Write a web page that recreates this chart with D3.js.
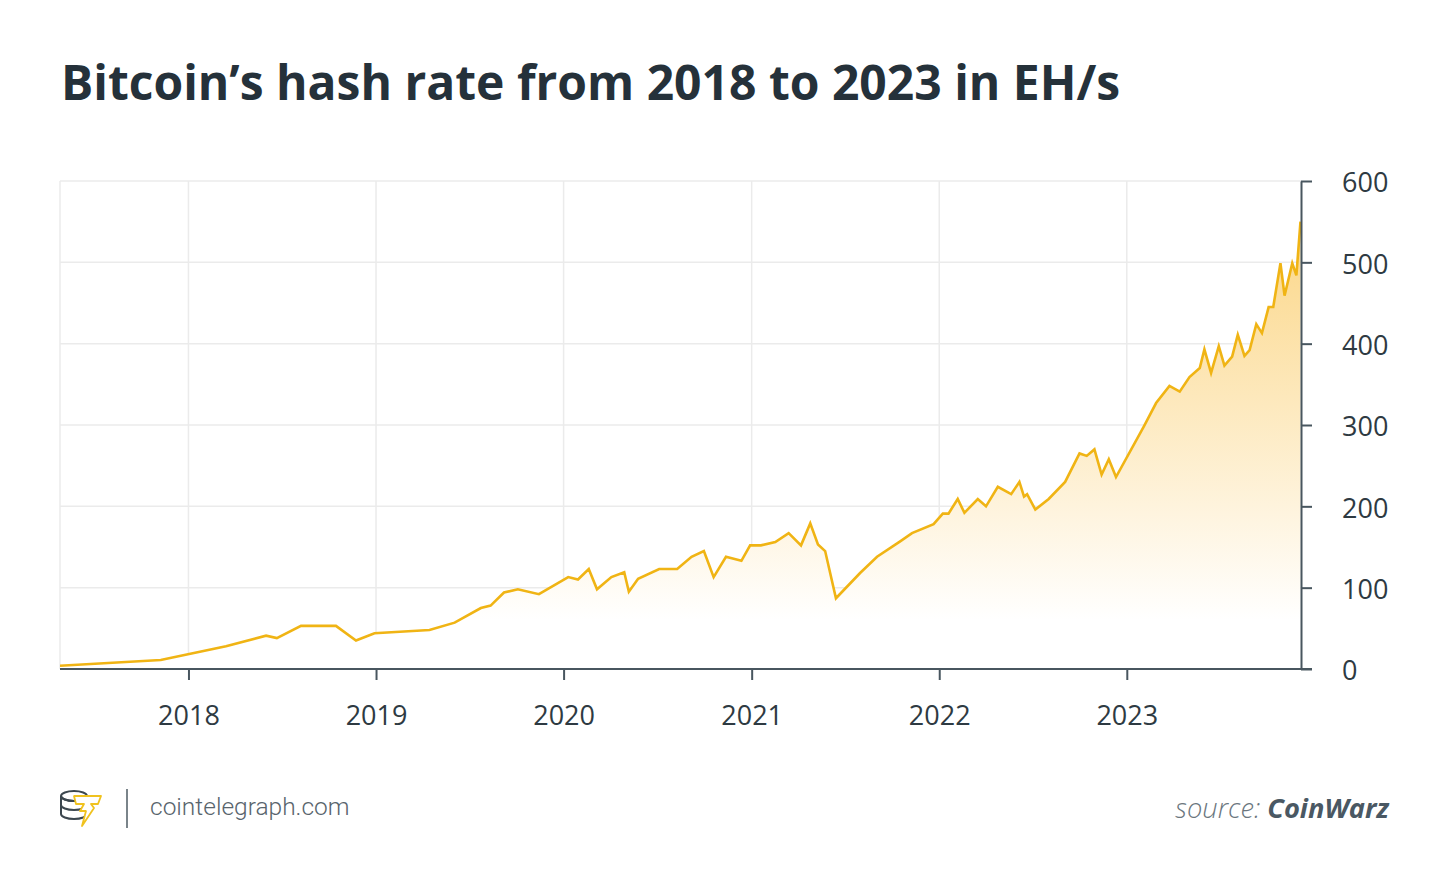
<!DOCTYPE html>
<html>
<head>
<meta charset="utf-8">
<script src="https://cdn.jsdelivr.net/npm/d3@7"></script>
<style>
  html, body { margin: 0; padding: 0; background: #ffffff; }
  svg { display: block; }
</style>
</head>
<body>
<svg id="chart" width="1450" height="889"></svg>
<script>
// ---- data ----
const dates = [
  "2017-04-26","2017-11-08","2018-03-15","2018-06-01","2018-06-22","2018-08-08","2018-10-15","2018-11-23","2018-12-29",
  "2019-04-15","2019-06-03","2019-07-24","2019-08-12","2019-09-07","2019-10-04","2019-11-14",
  "2020-01-10","2020-01-29","2020-02-19","2020-03-06","2020-04-03","2020-04-28","2020-05-07","2020-05-25","2020-07-05",
  "2020-08-09","2020-09-06","2020-09-30","2020-10-19","2020-11-12","2020-12-12","2020-12-29",
  "2021-01-19","2021-02-16","2021-03-14","2021-04-07","2021-04-25","2021-05-10","2021-05-24","2021-06-14","2021-07-31",
  "2021-09-02","2021-10-17","2021-11-09","2021-12-21",
  "2022-01-08","2022-01-19","2022-02-06","2022-02-19","2022-03-17","2022-04-02","2022-04-25","2022-05-21","2022-06-06",
  "2022-06-15","2022-06-21","2022-07-07","2022-08-02","2022-09-03","2022-10-01","2022-10-15","2022-10-30","2022-11-13",
  "2022-11-27","2022-12-11",
  "2023-02-03","2023-02-27","2023-03-25","2023-04-14","2023-05-03","2023-05-23","2023-06-01","2023-06-14","2023-06-29",
  "2023-07-10","2023-07-25","2023-08-05","2023-08-18","2023-08-28","2023-09-10","2023-09-21","2023-10-04","2023-10-13",
  "2023-10-27","2023-11-04","2023-11-19","2023-11-27","2023-12-05"
];
const hashRate = [
  4,11,28,41,38,53,53,35,44,
  48,57,75,78,94,98,92,
  113,110,123,98,113,119,95,111,123,
  123,138,145,113,138,133,152,
  152,156,167,152,179,153,145,87,118,
  138,157,167,178,
  191,191,209,192,209,200,224,215,230,
  212,215,196,209,230,265,262,270,239,
  258,236,
  298,327,348,341,359,370,393,364,397,
  373,384,411,385,392,424,413,445,445,
  499,459,499,484,550
];
const yTicks = [0, 100, 200, 300, 400, 500, 600];
const xTickYears = [2018, 2019, 2020, 2021, 2022, 2023];
const domainStart = "2017-04-26";
const domainEnd = "2023-12-06";

const titleText = "Bitcoin\u2019s hash rate from 2018 to 2023 in EH/s";

// ---- layout ----
const svg = d3.select("#chart");
const plotL = 60, plotR = 1301, plotT = 181, plotB = 669;
const parse = d3.utcParse("%Y-%m-%d");
const data = dates.map((d, i) => ({ date: parse(d), value: hashRate[i] }));

const x = d3.scaleUtc().domain([parse(domainStart), parse(domainEnd)]).range([plotL, plotR]);
const y = d3.scaleLinear().domain([0, 600]).range([plotB, plotT]);
const xTicks = xTickYears.map(yr => new Date(Date.UTC(yr, 0, 1)));

const axisColor = "#48565f";
const textColor = "#2e3a42";
const gridColor = "#ebebeb";

// title
svg.append("text")
  .attr("x", 61).attr("y", 100)
  .attr("font-family", "'Open Sans', sans-serif")
  .attr("font-weight", 700)
  .attr("font-size", 48)
  .attr("fill", "#25313a")
  .text(titleText);

// gradient
const defs = svg.append("defs");
const grad = defs.append("linearGradient")
  .attr("id", "areaGrad")
  .attr("gradientUnits", "userSpaceOnUse")
  .attr("x1", 0).attr("x2", 0)
  .attr("y1", y(600)).attr("y2", y(60));
grad.append("stop").attr("offset", "0%").attr("stop-color", "#fbd27a");
grad.append("stop").attr("offset", "100%").attr("stop-color", "#ffffff");

// grid
const grid = svg.append("g");
grid.selectAll("line.h").data(yTicks).join("line")
  .attr("x1", plotL).attr("x2", plotR)
  .attr("y1", d => y(d)).attr("y2", d => y(d))
  .attr("stroke", gridColor).attr("stroke-width", 1.5);
grid.selectAll("line.v").data(xTicks).join("line")
  .attr("x1", d => x(d)).attr("x2", d => x(d))
  .attr("y1", plotT).attr("y2", plotB)
  .attr("stroke", gridColor).attr("stroke-width", 1.5);
grid.append("line")
  .attr("x1", plotL).attr("x2", plotL).attr("y1", plotT).attr("y2", plotB)
  .attr("stroke", gridColor).attr("stroke-width", 1.5);

// area + line
svg.append("path")
  .datum(data)
  .attr("fill", "url(#areaGrad)")
  .attr("d", d3.area().x(d => x(d.date)).y0(y(0)).y1(d => y(d.value)));
svg.append("path")
  .datum(data)
  .attr("fill", "none")
  .attr("stroke", "#f0b414")
  .attr("stroke-width", 2.6)
  .attr("stroke-linejoin", "miter")
  .attr("d", d3.line().x(d => x(d.date)).y(d => y(d.value)));

// bottom axis
const xAxis = svg.append("g")
  .attr("transform", `translate(0,${plotB})`)
  .call(d3.axisBottom(x).tickValues(xTicks).tickFormat(d3.utcFormat("%Y")).tickSize(11).tickPadding(26).tickSizeOuter(0));
xAxis.select(".domain").remove();
xAxis.append("line").attr("x1", plotL).attr("x2", plotR + 11).attr("y1", 0).attr("y2", 0)
  .attr("stroke", axisColor).attr("stroke-width", 2);
xAxis.selectAll(".tick line").attr("stroke", axisColor).attr("stroke-width", 2);
xAxis.selectAll(".tick text")
  .attr("font-family", "'Open Sans', sans-serif").attr("font-size", 27).attr("fill", textColor);

// right axis
const yAxis = svg.append("g")
  .attr("transform", `translate(${plotR},0)`)
  .call(d3.axisRight(y).tickValues(yTicks).tickSize(11).tickPadding(30).tickSizeOuter(0));
yAxis.select(".domain").attr("stroke", axisColor).attr("stroke-width", 2);
yAxis.selectAll(".tick line").attr("stroke", axisColor).attr("stroke-width", 2);
yAxis.selectAll(".tick text")
  .attr("dy", "0.4em")
  .attr("font-family", "'Open Sans', sans-serif").attr("font-size", 27).attr("fill", textColor);

// footer: logo
const logo = svg.append("g").attr("transform", "translate(60,790)");
const coin = "#3c474f";
[0, 9, 18].forEach(dy => {
  logo.append("path")
    .attr("d", `M1,${6 + dy} A13,5 0 0 0 27,${6 + dy}`)
    .attr("fill", "none").attr("stroke", coin).attr("stroke-width", 2);
});
logo.append("ellipse").attr("cx", 14).attr("cy", 6).attr("rx", 13).attr("ry", 5)
  .attr("fill", "none").attr("stroke", coin).attr("stroke-width", 2);
logo.append("line").attr("x1", 1).attr("x2", 1).attr("y1", 6).attr("y2", 24).attr("stroke", coin).attr("stroke-width", 2);
logo.append("path")
  .attr("d", "M14,6 L41,6 L38,14 L31,14 L34,18 L22,36 L26,21 L20,21 L24,14 L16,14 Z")
  .attr("fill", "#ffffff").attr("stroke", "#f0c21e").attr("stroke-width", 1.8).attr("stroke-linejoin", "round");
svg.append("line").attr("x1", 127).attr("x2", 127).attr("y1", 789).attr("y2", 828)
  .attr("stroke", "#7a848a").attr("stroke-width", 2);
svg.append("text")
  .attr("x", 150).attr("y", 815)
  .attr("font-family", "Roboto, sans-serif").attr("font-weight", 300)
  .attr("font-size", 24.5).attr("fill", "#58646c")
  .text("cointelegraph.com");

// source
const src = svg.append("text")
  .attr("x", 1389).attr("y", 818)
  .attr("text-anchor", "end")
  .attr("font-family", "'Open Sans', sans-serif")
  .attr("font-style", "italic")
  .attr("font-size", 27.3);
src.append("tspan").attr("font-weight", 300).attr("fill", "#6b767e").text("source: ");
src.append("tspan").attr("font-weight", 700).attr("fill", "#4a5863").text("CoinWarz");
</script>
</body>
</html>
